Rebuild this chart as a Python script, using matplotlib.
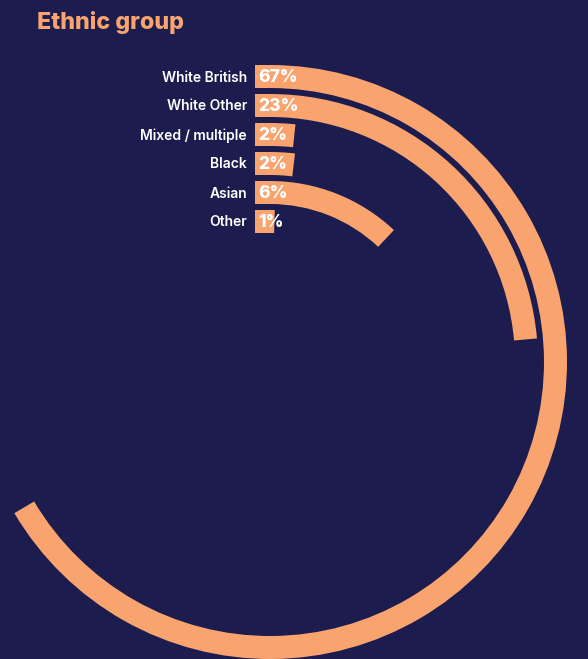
import matplotlib.pyplot as plt
from matplotlib.patches import Wedge, Rectangle

# data
groups = ['White British', 'White Other', 'Mixed / multiple', 'Black', 'Asian', 'Other']
shares = [67, 23, 2, 2, 6, 1]                 # printed values, %
arc_pct = [66.5, 23.6, 1.7, 1.9, 12, 0.5]     # arc length as drawn in the source, % of a full turn

bg = '#1c1d4e'
orange = '#f9a46f'
font = 'Inter'

fig = plt.figure(figsize=(5.88, 6.59), dpi=100, facecolor=bg)
ax = fig.add_axes([0, 0, 1, 1])
ax.set_facecolor(bg)
ax.set_xlim(0, 588)
ax.set_ylim(659, 0)   # pixel-like coords, y down
ax.axis('off')

cx, cy = 270, 362     # centre of the rings
r0 = 285.5            # centre line of the outer ring
step = 29
w = 23
x_box = 255           # left edge of the label boxes

for i, (g, v, a) in enumerate(zip(groups, shares, arc_pct)):
    r = r0 - i * step
    y = cy - r
    # straight start of the bar behind the value
    ax.add_patch(Rectangle((x_box, y - w / 2), cx - x_box, w, color=orange, lw=0))
    # arc, clockwise from 12 o'clock
    ax.add_patch(Wedge((cx, cy), r + w / 2, -90, -90 + a * 3.6, width=w,
                       color=orange, lw=0))
    ax.text(x_box + 3, y + 1, f'{v}%', color='white', fontsize=12.5,
            fontweight='heavy', family=font, ha='left', va='center')
    ax.text(247, y + 1, g, color='white', fontsize=10, fontweight='semibold',
            family=font, ha='right', va='center')

ax.text(37, 22, 'Ethnic group', color=orange, fontsize=16.8, fontweight='heavy',
        family=font, ha='left', va='center')

fig.savefig('out.png', dpi=100, facecolor=bg)
